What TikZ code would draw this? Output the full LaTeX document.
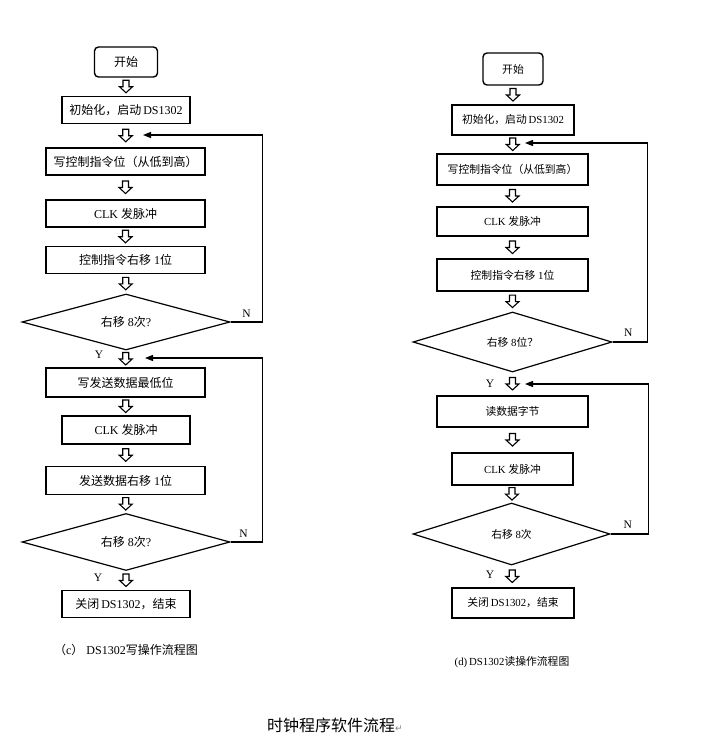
\documentclass[tikz,border=0pt]{standalone}
\usepackage{fontspec}
\setmainfont{Liberation Serif}
\newfontfamily\cjk{Noto Sans CJK SC}
\newfontfamily\symfont{DejaVu Sans}
\usetikzlibrary{shapes.geometric,arrows.meta}

\begin{document}
\begin{tikzpicture}[
  x=1pt, y=-1pt,
  font=\fontsize{11}{13}\selectfont,
  box/.style={draw, line width=1.4pt, inner sep=0pt, minimum height=27pt},
  startbox/.style={box, rounded corners=4pt},
  dec/.style={draw, diamond, line width=1.2pt, inner sep=0pt, aspect=3.7},
  fb/.style={-{Triangle[length=8pt,width=6pt]}, line width=1.3pt},
  yn/.style={font=\fontsize{11.5}{13}\selectfont},
  blk/.pic={\draw[line width=1.1pt, line join=miter] (-3,-6.5) -- (3,-6.5) -- (3,0) -- (6.5,0) -- (0,6) -- (-6.5,0) -- (-3,0) -- cycle;}
]
  \useasboundingbox[fill=white] (0,0) rectangle (723,744);

  % (c) write flow
  \begin{scope}[font=\fontsize{12}{14}\selectfont]
  \node[startbox, minimum width=63pt, minimum height=30pt] (s1) at (126,62) {\cjk 开始};
  \node[box, minimum width=128pt] (i1) at (126,110) {{\cjk 初始化，启动}\,DS1302};
  \node[box, minimum width=159pt] (w1) at (125.5,161.5) {\cjk 写控制指令位（从低到高）};
  \node[box, minimum width=159pt] (c1) at (125.5,213.5) {CLK {\cjk 发脉冲}};
  \node[box, minimum width=159pt] (r1) at (125.5,260) {{\cjk 控制指令右移} 1{\cjk 位}};
  \node[dec, minimum width=208pt, minimum height=56pt] (d1) at (126,322) {{\cjk 右移} 8{\cjk 次}?};
  \node[box, minimum width=159pt, minimum height=29pt] (w2) at (125.5,382.5) {\cjk 写发送数据最低位};
  \node[box, minimum width=128pt, minimum height=28pt] (c2) at (126,430) {CLK {\cjk 发脉冲}};
  \node[box, minimum width=159pt, minimum height=28pt] (s2) at (125.5,480.5) {{\cjk 发送数据右移} 1{\cjk 位}};
  \node[dec, minimum width=208pt, minimum height=57pt] (d2) at (126,542) {{\cjk 右移} 8{\cjk 次}?};
  \node[box, minimum width=128pt] (e1) at (126,604) {{\cjk 关闭}\,DS1302{\cjk ，结束}};
  \end{scope}

  \foreach \a/\b in {s1/i1, i1/w1, w1/c1, c1/r1, r1/d1, d1/w2, w2/c2, c2/s2, s2/d2, d2/e1}
    \path (\a.south) -- (\b.north) pic[pos=.5]{blk};

  \node[yn] (y1) at (99,355) {Y};
  \node[yn] (y2) at (98,578) {Y};
  \coordinate (in1) at (143,135);
  \coordinate (in2) at (145,358);
  \draw[fb] (d1.east) -- ++(32,0) node[yn, pos=.5, above=1pt] (n1) {N} |- (in1);
  \draw[fb] (d2.east) -- ++(32,0) node[yn, pos=.4, above=1pt] (n2) {N} |- (in2);

  \node[font=\fontsize{12}{14}\selectfont] (capc) at (126,650) {{\cjk （}c{\cjk ）}\ DS1302{\cjk 写操作流程图}};

  % (d) read flow
  \begin{scope}[font=\fontsize{10.8}{12}\selectfont]
  \node[startbox, minimum width=60pt, minimum height=32pt] (s3) at (513,69) {\cjk 开始};
  \node[box, minimum width=122pt, minimum height=30pt] (i2) at (513,120) {{\cjk 初始化，启动}\,DS1302};
  \node[box, minimum width=151pt, minimum height=31pt] (w3) at (512.5,169.5) {\cjk 写控制指令位（从低到高）};
  \node[box, minimum width=151pt, minimum height=29pt] (c3) at (512.5,221.5) {CLK {\cjk 发脉冲}};
  \node[box, minimum width=151pt, minimum height=32pt] (r3) at (512.5,275) {{\cjk 控制指令右移} 1{\cjk 位}};
  \node[dec, minimum width=199pt, minimum height=60pt] (d3) at (512.5,342) {{\cjk 右移} 8{\cjk 位？}};
  \node[box, minimum width=151pt, minimum height=31pt] (rd) at (512.5,411.5) {\cjk 读数据字节};
  \node[box, minimum width=121pt, minimum height=32pt] (c4) at (512.5,469) {CLK {\cjk 发脉冲}};
  \node[dec, minimum width=197pt, minimum height=62pt] (d4) at (511.5,534) {{\cjk 右移} 8{\cjk 次}};
  \node[box, minimum width=122pt, minimum height=30pt] (e2) at (513,603) {{\cjk 关闭}\,DS1302{\cjk ，结束}};
  \end{scope}

  \foreach \a/\b in {s3/i2, i2/w3, w3/c3, c3/r3, r3/d3, d3/rd, rd/c4, c4/d4, d4/e2}
    \path (\a.south) -- (\b.north) pic[pos=.5]{blk};

  \node[yn] (y3) at (490,384) {Y};
  \node[yn] (y4) at (490,575) {Y};
  \coordinate (in3) at (525,143);
  \coordinate (in4) at (525,384);
  \draw[fb] (d3.east) -- ++(35,0) node[yn, pos=.45, above=2pt] (n3) {N} |- (in3);
  \draw[fb] (d4.east) -- ++(38,0) node[yn, pos=.45, above=2pt] (n4) {N} |- (in4);

  \node[font=\fontsize{10.8}{12}\selectfont] (capd) at (512,662) {(d)\,DS1302{\cjk 读操作流程图}};

  % title
  \node[anchor=west, inner sep=0pt] (title) at (267,725)
    {{\cjk\fontsize{16}{18}\selectfont 时钟程序软件流程}{\symfont\color{gray}\fontsize{9}{10}\selectfont ↵}};
\end{tikzpicture}
\end{document}
